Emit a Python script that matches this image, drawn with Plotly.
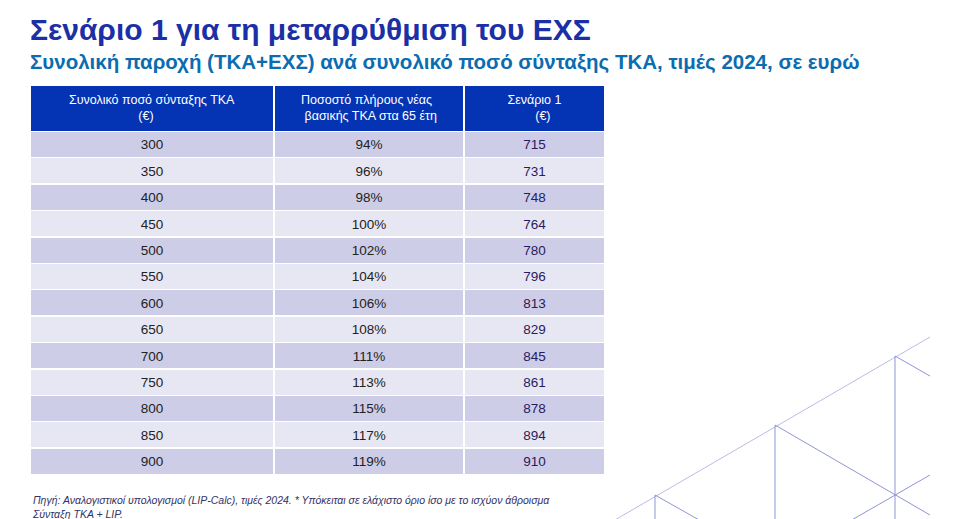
import plotly.graph_objects as go

amounts = [300, 350, 400, 450, 500, 550, 600, 650, 700, 750, 800, 850, 900]
percents = ["94%", "96%", "98%", "100%", "102%", "104%", "106%", "108%", "111%", "113%", "115%", "117%", "119%"]
scenario1 = [715, 731, 748, 764, 780, 796, 813, 829, 845, 861, 878, 894, 910]
headers = ["Συνολικό ποσό σύνταξης ΤΚΑ<br>                    (€)",
           "Ποσοστό πλήρους νέας<br> βασικής ΤΚΑ στα 65 έτη",
           "Σενάριο 1<br>        (€)"]

W, H = 979, 519
FONT = "Liberation Sans, Arial"
fills = ["#cdcde8" if i % 2 == 0 else "#e7e7f3" for i in range(len(amounts))]

fig = go.Figure(go.Table(
    columnwidth=[244, 190, 141],
    header=dict(values=headers, fill_color="#0433b3", line=dict(color="white", width=1.5),
                font=dict(color="white", size=12.5, family=FONT), align="center", height=43),
    cells=dict(values=[amounts, percents, scenario1], fill_color=[fills] * 3,
               line=dict(color="white", width=1.5),
               font=dict(color=["#222222", "#222222", "#2a1a5e"], size=13.5, family=FONT),
               align="center", height=26.4),
    domain=dict(x=[22 / W, 597 / W], y=[0, 1 - 77 / H]),
))

def px(x, y):
    return x / W, 1 - y / H

shapes = []
segs = [((600, 516), (922, 329), "#b8bce6"),
        ((647, 487), (647, 517), "#8f95d4"), ((767, 417), (767, 517), "#8f95d4"), ((887, 348), (887, 517), "#8f95d4"),
        ((647, 487), (700, 517), "#8f95d4"), ((767, 417), (922, 507), "#8f95d4"),
        ((887, 348), (922, 368), "#8f95d4"), ((835, 517), (922, 467), "#8f95d4")]
for (a, b, c) in segs:
    x0, y0 = px(*a); x1, y1 = px(*b)
    shapes.append(dict(type="line", xref="paper", yref="paper", x0=x0, y0=y0, x1=x1, y1=y1,
                       line=dict(color=c, width=1)))
shapes.append(dict(type="rect", xref="paper", yref="paper", x0=0, x1=922 / W, y0=0, y1=2 / H,
                   fillcolor="#dcdcdc", line=dict(width=0)))

annotations = [
    dict(text="<b>Σενάριο 1 για τη μεταρρύθμιση του ΕΧΣ</b>", x=20 / W, y=1 - 3 / H, xanchor="left", yanchor="top",
         font=dict(size=30, color="#1b2fa6", family=FONT), showarrow=False),
    dict(text="<b>Συνολική παροχή (ΤΚΑ+ΕΧΣ) ανά συνολικό ποσό σύνταξης ΤΚΑ, τιμές 2024, σε ευρώ</b>",
         x=20 / W, y=1 - 40 / H, xanchor="left", yanchor="top",
         font=dict(size=20.5, color="#0b6cb0", family=FONT), showarrow=False),
    dict(text="<i>Πηγή: Αναλογιστικοί υπολογισμοί (LIP-Calc), τιμές 2024. * Υπόκειται σε ελάχιστο όριο ίσο με το ισχύον άθροισμα<br>Σύνταξη ΤΚΑ + LIP.</i>",
         x=22 / W, y=1 - 484 / H, xanchor="left", yanchor="top", align="left",
         font=dict(size=10.5, color="#333366", family=FONT), showarrow=False),
]

fig.update_layout(width=W, height=H, margin=dict(l=0, r=0, t=0, b=0),
                  paper_bgcolor="white", plot_bgcolor="white",
                  shapes=shapes, annotations=annotations)
fig.write_html("out.html")
